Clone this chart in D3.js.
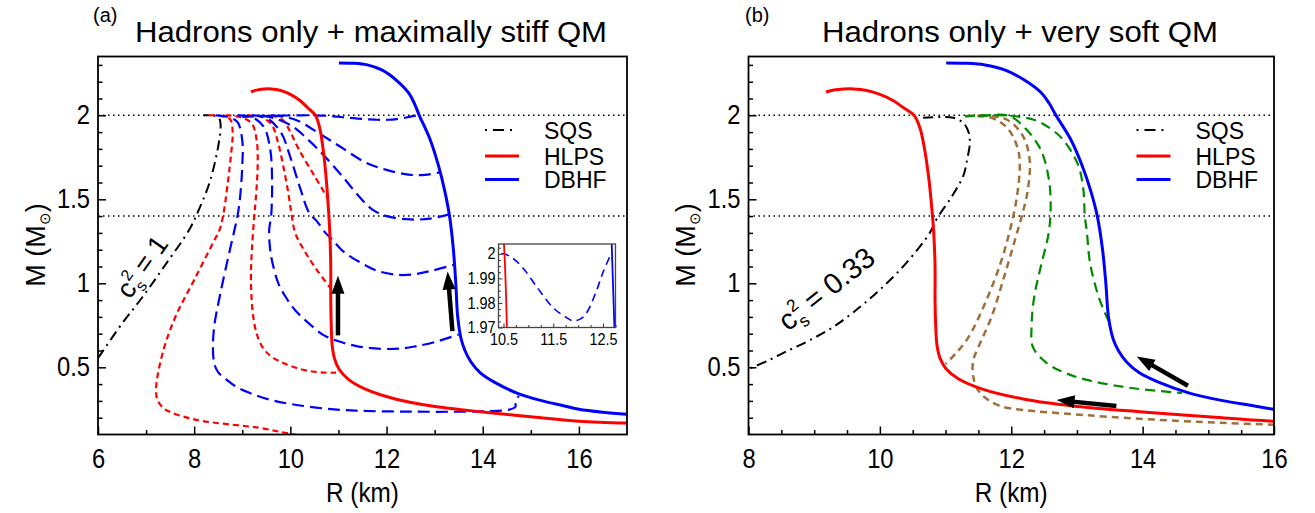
<!DOCTYPE html>
<html><head><meta charset="utf-8">
<script src="https://cdn.jsdelivr.net/npm/d3@7"></script>
<style>
body{margin:0;background:#fff}
svg{display:block}
text{font-family:"Liberation Sans",Arial,sans-serif;fill:#000}
</style>
</head><body>
<svg id="c" width="1315" height="513"></svg>
<script>
// ---------------- DATA (R in km, M in solar masses) ----------------
const titleA = "Hadrons only + maximally stiff QM";
const titleB = "Hadrons only + very soft QM";
const legendLabels = ["SQS", "HLPS", "DBHF"];
const xTicksA = [6, 8, 10, 12, 14, 16];
const xMinorA = [7, 9, 11, 13, 15];
const xTicksB = [8, 10, 12, 14, 16];
const xMinorB = [8.5, 9, 9.5, 10.5, 11, 11.5, 12.5, 13, 13.5, 14.5, 15, 15.5];
const yTicks = [0.5, 1, 1.5, 2];
const yMinor = [0.2, 0.3, 0.4, 0.6, 0.7, 0.8, 0.9, 1.1, 1.2, 1.3, 1.4, 1.6, 1.7, 1.8, 1.9, 2.1, 2.2, 2.3];
const refMasses = [2.0, 1.4];
const insetXTicks = [10.5, 11.5, 12.5];
const insetXMinor = [10.75, 11, 11.25, 11.75, 12, 12.25, 12.75];
const insetYTicks = [1.97, 1.98, 1.99, 2];
const insetYMinor = [1.9725, 1.975, 1.9775, 1.9825, 1.985, 1.9875, 1.9925, 1.995, 1.9975, 2.0025];

// hadronic curves (same in both panels)
const hlps = [[9.18,2.139],[9.3,2.150],[9.45,2.156],[9.6,2.157],[9.8,2.148],[10.0,2.125],[10.2,2.088],[10.36,2.045],[10.52,2.0],[10.61,1.925],[10.68,1.8],[10.74,1.64],[10.79,1.45],[10.82,1.3],[10.84,1.1],[10.84,0.9],[10.85,0.75],[10.87,0.63],[10.92,0.55],[11.01,0.49],[11.2,0.43],[11.56,0.37],[12.2,0.31],[12.94,0.27],[14.0,0.234],[15.0,0.205],[16.0,0.179],[17.0,0.168]];
const dbhf = [[11.01,2.312],[11.3,2.31],[11.6,2.30],[11.9,2.27],[12.2,2.21],[12.46,2.133],[12.58,2.07],[12.68,2.0],[12.9,1.86],[13.08,1.70],[13.21,1.55],[13.31,1.4],[13.39,1.2],[13.44,1.0],[13.48,0.8],[13.55,0.67],[13.63,0.6],[13.76,0.53],[13.95,0.467],[14.25,0.41],[14.7,0.348],[15.2,0.303],[15.7,0.27],[16.0,0.25],[16.5,0.232],[17.0,0.22]];

// panel (a): self-bound strange quark star, c_s^2 = 1
const sqsStiff = [[6.0,0.555],[6.5,0.76],[6.93,0.92],[7.4,1.11],[7.9,1.32],[8.1,1.44],[8.32,1.6],[8.49,1.8],[8.55,1.93],[8.53,1.975],[8.45,1.995],[8.2,2.0]];
// panel (a): hybrid branches from HLPS (red dashed)
const hybHLPS1 = [[8.3,2.0],[8.55,1.997],[8.75,1.975],[8.8,1.9],[8.76,1.75],[8.7,1.6],[8.6,1.4],[8.53,1.32],[8.39,1.24],[8.0,1.02],[7.64,0.82],[7.4,0.64],[7.25,0.467],[7.21,0.38],[7.23,0.31],[7.35,0.26],[7.49,0.235],[7.8,0.205],[8.18,0.18],[8.8,0.158],[9.35,0.14],[9.8,0.115],[10.2,0.095]];
const hybHLPS2 = [[8.65,2.0],[8.95,1.99],[9.2,1.95],[9.3,1.85],[9.32,1.7],[9.28,1.5],[9.25,1.4],[9.2,1.2],[9.18,1.02],[9.22,0.82],[9.3,0.7],[9.42,0.62],[9.6,0.565],[9.9,0.52],[10.2,0.49],[10.46,0.475],[10.7,0.468],[10.95,0.468]];
const hybHLPS3 = [[9.1,2.0],[9.4,1.99],[9.62,1.94],[9.75,1.83],[9.85,1.7],[9.95,1.55],[10.02,1.42],[10.1,1.3],[10.3,1.19],[10.55,1.08],[10.84,0.97]];
const hybHLPS4 = [[9.6,2.0],[9.85,1.97],[10.0,1.9],[10.18,1.795],[10.5,1.64],[10.79,1.5]];
// panel (a): hybrid branches from DBHF (blue dashed)
const hybDBHF1 = [[8.45,2.0],[8.7,1.99],[8.9,1.96],[9.0,1.85],[9.0,1.7],[8.95,1.5],[8.9,1.4],[8.84,1.32],[8.68,1.12],[8.53,0.92],[8.42,0.75],[8.39,0.62],[8.42,0.52],[8.5,0.47],[8.66,0.43],[8.9,0.38],[9.22,0.34],[9.6,0.305],[10.04,0.28],[10.7,0.255],[11.35,0.242],[12.5,0.236],[13.63,0.236],[14.2,0.24],[14.55,0.248],[14.68,0.265],[14.68,0.295],[14.75,0.33]];
const hybDBHF2 = [[8.9,2.0],[9.2,1.99],[9.45,1.93],[9.58,1.8],[9.62,1.6],[9.6,1.4],[9.56,1.32],[9.58,1.2],[9.63,1.12],[9.75,1.0],[9.9,0.92],[10.1,0.84],[10.39,0.76],[10.7,0.69],[11.0,0.655],[11.4,0.625],[11.9,0.61],[12.3,0.612],[12.6,0.625],[13.0,0.65],[13.5,0.695]];
const hybDBHF3 = [[9.2,2.0],[9.5,1.985],[9.8,1.9],[10.0,1.75],[10.2,1.57],[10.39,1.42],[10.55,1.37],[10.73,1.3],[10.87,1.26],[11.1,1.19],[11.42,1.13],[11.8,1.075],[12.25,1.05],[12.6,1.055],[12.94,1.075],[13.4,1.11]];
const hybDBHF4 = [[9.4,2.0],[9.7,1.98],[10.04,1.935],[10.35,1.86],[10.7,1.76],[11.1,1.63],[11.42,1.52],[11.7,1.44],[12.0,1.40],[12.5,1.38],[12.9,1.385],[13.3,1.41]];
const hybDBHF5 = [[9.6,2.0],[9.9,1.99],[10.18,1.964],[10.5,1.91],[11.0,1.82],[11.56,1.72],[12.0,1.675],[12.46,1.647],[12.8,1.645],[13.1,1.66]];
const hybDBHF6 = [[9.0,1.99],[9.4,1.995],[9.8,1.998],[10.2,2.0],[10.5,2.0],[10.7,1.998],[10.9,1.994],[11.17,1.9865],[11.5,1.978],[11.77,1.974],[11.9,1.9727],[12.05,1.9735],[12.17,1.976],[12.35,1.984],[12.5,1.9925],[12.66,2.0]];

// panel (b): self-bound strange quark star, c_s^2 = 0.33
const sqsSoft = [[10.66,1.985],[10.9,1.99],[11.12,1.985],[11.27,1.955],[11.35,1.9],[11.37,1.835],[11.33,1.74],[11.27,1.64],[11.1,1.52],[10.86,1.38],[10.76,1.3],[10.4,1.12],[10.05,0.98],[9.7,0.86],[9.29,0.74],[8.9,0.655],[8.58,0.595],[8.3,0.54],[8.0,0.49]];
// panel (b): soft hybrid branches from HLPS (brown dashed)
const softHLPS1 = [[11.3,1.995],[11.7,1.985],[11.95,1.92],[12.1,1.8],[12.13,1.7],[12.08,1.5],[11.97,1.3],[11.82,1.1],[11.6,0.88],[11.35,0.68],[11.15,0.58],[11.0,0.52]];
const softHLPS2 = [[11.52,2.0],[11.93,1.975],[12.18,1.875],[12.28,1.735],[12.25,1.55],[12.16,1.4],[12.05,1.25],[11.9,1.05],[11.7,0.8],[11.5,0.62],[11.42,0.54],[11.42,0.45],[11.47,0.38],[11.6,0.32],[11.83,0.27],[12.2,0.245],[12.8,0.225],[13.5,0.205],[14.5,0.182],[15.3,0.168],[16.0,0.158]];
// panel (b): soft hybrid branches from DBHF (green dashed)
const softDBHF1 = [[11.3,1.995],[11.6,2.0],[11.98,1.995],[12.23,1.915],[12.4,1.83],[12.49,1.756],[12.58,1.6],[12.6,1.45],[12.57,1.3],[12.45,1.1],[12.35,0.92],[12.31,0.75],[12.33,0.62],[12.54,0.525],[12.8,0.47],[13.15,0.425],[13.6,0.39],[14.01,0.368],[14.6,0.347]];
const softDBHF2 = [[11.5,1.995],[11.88,2.0],[12.33,1.975],[12.6,1.92],[12.79,1.855],[12.95,1.76],[13.04,1.68],[13.1,1.55],[13.12,1.4],[13.15,1.31],[13.2,1.12],[13.33,0.92],[13.42,0.83],[13.5,0.76]];

// arrows [R_tail, M_tail, R_head, M_head]
const arrowsA = [[10.99,0.69,10.99,1.045],[13.37,0.715,13.27,1.07]];
const arrowsB = [[13.6,0.27,12.69,0.305],[14.69,0.39,13.91,0.565]];

// ---------------- STYLE / LAYOUT ----------------
const RED = "#ff0000", BLUE = "#0000ff", GREEN = "#008a00", BROWN = "#a0703c";
const yDomain = [0.1, 2.35];
const svg = d3.select("#c");
const defs = svg.append("defs");

function condense(sel, f) {
  sel.each(function () {
    const w = this.getComputedTextLength();
    if (w > 0) { this.setAttribute("textLength", w * f); this.setAttribute("lengthAdjust", "spacingAndGlyphs"); }
  });
}

function drawPanel(cfg) {
  const g = svg.append("g");
  const x = d3.scaleLinear().domain(cfg.xd).range([cfg.x0, cfg.x1]);
  const y = d3.scaleLinear().domain(yDomain).range([cfg.y1, cfg.y0]);
  defs.append("clipPath").attr("id", cfg.id).append("rect")
    .attr("x", cfg.x0).attr("y", cfg.y0).attr("width", cfg.x1 - cfg.x0).attr("height", cfg.y1 - cfg.y0);

  // reference dotted lines
  refMasses.forEach(m => g.append("line").attr("x1", cfg.x0).attr("x2", cfg.x1)
    .attr("y1", y(m)).attr("y2", y(m)).attr("stroke", "#000").attr("stroke-width", 1.5)
    .attr("stroke-dasharray", "1.5,3.5"));

  const cg = g.append("g").attr("clip-path", `url(#${cfg.id})`);
  const L = d3.line().curve(d3.curveCatmullRom.alpha(0.5)).x(d => x(d[0])).y(d => y(d[1]));
  cfg.curves.forEach(c => {
    cg.append("path").attr("d", L(c.data)).attr("fill", "none").attr("stroke", c.color)
      .attr("stroke-width", c.w).attr("stroke-dasharray", c.dash || null)
      .attr("stroke-linejoin", "round");
  });

  // arrows
  cfg.arrows.forEach(a => {
    const x1 = x(a[0]), y1 = y(a[1]), x2 = x(a[2]), y2 = y(a[3]);
    const dx = x2 - x1, dy = y2 - y1, len = Math.hypot(dx, dy), ux = dx / len, uy = dy / len;
    const hl = 18, hw = 6.5, bx = x2 - ux * hl, by = y2 - uy * hl;
    g.append("line").attr("x1", x1).attr("y1", y1).attr("x2", bx + ux * 2).attr("y2", by + uy * 2)
      .attr("stroke", "#000").attr("stroke-width", 4.5);
    g.append("path").attr("d", `M${x2},${y2}L${bx - uy * hw},${by + ux * hw}L${bx + uy * hw},${by - ux * hw}Z`)
      .attr("fill", "#000");
  });

  // axes (inward ticks)
  g.append("g").attr("transform", `translate(0,${cfg.y1})`)
    .call(d3.axisBottom(x).tickValues(cfg.xt).tickSize(-8).tickPadding(14).tickFormat(d3.format("d")));
  g.append("g").attr("transform", `translate(0,${cfg.y1})`)
    .call(d3.axisBottom(x).tickValues(cfg.xm).tickSize(-4.5).tickFormat(""));
  g.append("g").attr("transform", `translate(${cfg.x0},0)`)
    .call(d3.axisLeft(y).tickValues(yTicks).tickSize(-8).tickPadding(8).tickFormat(d => d3.format("")(d)));
  g.append("g").attr("transform", `translate(${cfg.x0},0)`)
    .call(d3.axisLeft(y).tickValues(yMinor).tickSize(-4.5).tickFormat(""));
  g.selectAll(".domain").remove();
  g.selectAll(".tick line").attr("stroke", "#000").attr("stroke-width", 1.5);
  g.selectAll(".tick text").attr("font-size", 27).attr("font-family", "Liberation Sans, Arial, sans-serif").attr("fill", "#000");
  condense(g.selectAll(".tick text"), 0.88);

  // frame
  g.append("rect").attr("x", cfg.x0).attr("y", cfg.y0).attr("width", cfg.x1 - cfg.x0).attr("height", cfg.y1 - cfg.y0)
    .attr("fill", "none").attr("stroke", "#000").attr("stroke-width", 1.8);

  // titles
  g.append("text").attr("x", cfg.tagX).attr("y", 22).attr("font-size", 20).text(cfg.tag);
  g.append("text").attr("x", cfg.titleX).attr("y", 42).attr("font-size", 30)
    .attr("textLength", cfg.titleLen).attr("lengthAdjust", "spacingAndGlyphs").text(cfg.title);

  // axis titles
  const xl = g.append("text").attr("x", (cfg.x0 + cfg.x1) / 2).attr("y", 502).attr("text-anchor", "middle")
    .attr("font-size", 27).text("R (km)");
  condense(xl, 0.9);
  const yl = g.append("text").attr("transform", `translate(${cfg.ylx},245) rotate(-90)`)
    .attr("text-anchor", "middle").attr("font-size", 27);
  yl.append("tspan").text("M (M");
  yl.append("tspan").attr("font-size", 15).attr("dy", 5).text("\u2299");
  yl.append("tspan").attr("dy", -5).text(")");

  // legend
  const lx = cfg.legX, ly = [130, 156, 179.5];
  g.append("line").attr("x1", lx).attr("x2", lx + 33).attr("y1", ly[0]).attr("y2", ly[0])
    .attr("stroke", "#000").attr("stroke-width", 2.2).attr("stroke-dasharray", "2,6,11,6,2,40");
  g.append("line").attr("x1", lx).attr("x2", lx + 34).attr("y1", ly[1]).attr("y2", ly[1])
    .attr("stroke", RED).attr("stroke-width", 3);
  g.append("line").attr("x1", lx).attr("x2", lx + 34).attr("y1", ly[2]).attr("y2", ly[2])
    .attr("stroke", BLUE).attr("stroke-width", 3);
  legendLabels.forEach((t, i) => g.append("text").attr("x", lx + 59).attr("y", ly[i] + 8.5)
    .attr("font-size", 23).text(t));

  // c_s^2 label
  const cs = g.append("g").attr("transform", `translate(${cfg.cs.x},${cfg.cs.y}) rotate(${cfg.cs.a})`);
  const fs = cfg.cs.fs;
  cs.append("text").attr("x", 0).attr("y", 0).attr("font-size", fs).text("c");
  cs.append("text").attr("x", fs * 0.52).attr("y", -fs * 0.42).attr("font-size", fs * 0.6).text("2");
  cs.append("text").attr("x", fs * 0.52).attr("y", fs * 0.24).attr("font-size", fs * 0.6).text("s");
  cs.append("text").attr("x", fs * 1.12).attr("y", 0).attr("font-size", fs).text("= " + cfg.cs.v);

  return {x, y, g};
}

const sqsDash = "10,5,2,5";
drawPanel({
  id: "clipA", xd: [6, 17], x0: 98, x1: 627, y0: 56.5, y1: 434.5,
  xt: xTicksA, xm: xMinorA, tag: "(a)", tagX: 93, title: titleA, titleX: 135, titleLen: 472,
  ylx: 45, legX: 485,
  cs: {x: 130, y: 300, a: -55, v: "1", fs: 27},
  arrows: arrowsA,
  curves: [
    {data: sqsStiff, color: "#000", w: 2, dash: sqsDash},
    {data: hybHLPS1, color: RED, w: 2.2, dash: "6,4"},
    {data: hybHLPS2, color: RED, w: 2.2, dash: "6,4"},
    {data: hybHLPS3, color: RED, w: 2.2, dash: "6,4"},
    {data: hybHLPS4, color: RED, w: 2.2, dash: "6,4"},
    {data: hybDBHF1, color: BLUE, w: 2.2, dash: "12,6"},
    {data: hybDBHF2, color: BLUE, w: 2.2, dash: "12,6"},
    {data: hybDBHF3, color: BLUE, w: 2.2, dash: "12,6"},
    {data: hybDBHF4, color: BLUE, w: 2.2, dash: "12,6"},
    {data: hybDBHF5, color: BLUE, w: 2.2, dash: "12,6"},
    {data: hybDBHF6, color: BLUE, w: 2.2, dash: "12,6"},
    {data: hlps, color: RED, w: 3},
    {data: dbhf, color: BLUE, w: 3}
  ]
});

drawPanel({
  id: "clipB", xd: [8, 16], x0: 748.5, x1: 1274, y0: 56.5, y1: 434.5,
  xt: xTicksB, xm: xMinorB, tag: "(b)", tagX: 745, title: titleB, titleX: 822, titleLen: 396,
  ylx: 695, legX: 1136.5,
  cs: {x: 788, y: 332, a: -38.5, v: "0.33", fs: 29},
  arrows: arrowsB,
  curves: [
    {data: sqsSoft, color: "#000", w: 2, dash: sqsDash},
    {data: softHLPS1, color: BROWN, w: 2.5, dash: "7,5"},
    {data: softHLPS2, color: BROWN, w: 2.5, dash: "7,5"},
    {data: softDBHF1, color: GREEN, w: 2.2, dash: "10,6"},
    {data: softDBHF2, color: GREEN, w: 2.2, dash: "10,6"},
    {data: hlps, color: RED, w: 3},
    {data: dbhf, color: BLUE, w: 3}
  ]
});

// ---------------- INSET in panel (a) ----------------
(function () {
  const c = {x0: 498.5, x1: 615.5, y0: 244, y1: 327.5};
  const x = d3.scaleLinear().domain([10.4, 12.75]).range([c.x0, c.x1]);
  const y = d3.scaleLinear().domain([1.97, 2.004]).range([c.y1, c.y0]);
  const g = svg.append("g");
  g.append("rect").attr("x", c.x0).attr("y", c.y0).attr("width", c.x1 - c.x0).attr("height", c.y1 - c.y0).attr("fill", "#fff");
  defs.append("clipPath").attr("id", "clipI").append("rect")
    .attr("x", c.x0).attr("y", c.y0).attr("width", c.x1 - c.x0).attr("height", c.y1 - c.y0);
  const cg = g.append("g").attr("clip-path", "url(#clipI)");
  const L = d3.line().curve(d3.curveCatmullRom.alpha(0.5)).x(d => x(d[0])).y(d => y(d[1]));
  cg.append("path").attr("d", L(hybDBHF6)).attr("fill", "none").attr("stroke", BLUE).attr("stroke-width", 1.6).attr("stroke-dasharray", "8,5");
  cg.append("path").attr("d", L(hlps)).attr("fill", "none").attr("stroke", RED).attr("stroke-width", 1.8);
  cg.append("path").attr("d", L(dbhf)).attr("fill", "none").attr("stroke", BLUE).attr("stroke-width", 1.8);
  g.append("g").attr("transform", `translate(0,${c.y1})`)
    .call(d3.axisBottom(x).tickValues(insetXTicks).tickSize(-4).tickPadding(6).tickFormat(d3.format(".1f")));
  g.append("g").attr("transform", `translate(0,${c.y1})`)
    .call(d3.axisBottom(x).tickValues(insetXMinor).tickSize(-2.5).tickFormat(""));
  g.append("g").attr("transform", `translate(${c.x0},0)`)
    .call(d3.axisLeft(y).tickValues(insetYTicks).tickSize(-4).tickPadding(3).tickFormat(d => d === 2 ? "2" : d3.format(".2f")(d)));
  g.append("g").attr("transform", `translate(${c.x0},0)`)
    .call(d3.axisLeft(y).tickValues(insetYMinor.filter(v => v <= 2.004)).tickSize(-2.5).tickFormat(""));
  g.selectAll(".domain").remove();
  g.selectAll(".tick line").attr("stroke", "#333").attr("stroke-width", 1);
  g.selectAll(".tick text").attr("font-size", 16).attr("font-family", "Liberation Sans, Arial, sans-serif").attr("fill", "#000");
  condense(g.selectAll(".tick text"), 0.9);
  g.append("rect").attr("x", c.x0).attr("y", c.y0).attr("width", c.x1 - c.x0).attr("height", c.y1 - c.y0)
    .attr("fill", "none").attr("stroke", "#444").attr("stroke-width", 1.3);
})();
</script>
</body></html>
